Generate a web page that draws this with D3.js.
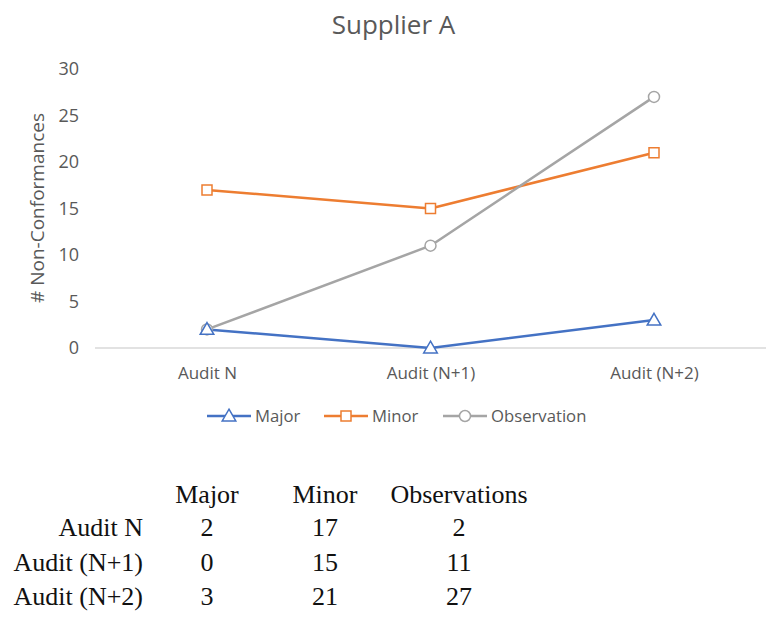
<!DOCTYPE html>
<html><head><meta charset="utf-8">
<script src="https://cdn.jsdelivr.net/npm/d3@7/dist/d3.min.js"></script>
<style>body{margin:0;background:#fff;} svg{display:block;}</style>
</head><body>
<svg id="c" width="767" height="620"></svg>
<script>
const categories = ["Audit N", "Audit (N+1)", "Audit (N+2)"];
const major = [2, 0, 3];
const minor = [17, 15, 21];
const observation = [2, 11, 27];
const yTicks = [0, 5, 10, 15, 20, 25, 30];
const seriesNames = ["Major", "Minor", "Observation"];
const tableHeaders = ["Major", "Minor", "Observations"];
const colors = ["#4472C4", "#ED7D31", "#A5A5A5"];
const shapes = [d3.symbolTriangle, d3.symbolSquare, d3.symbolCircle];

const series = [major, minor, observation];
const svg = d3.select("#c");
const font = "'Open Sans', 'Noto Sans', sans-serif";
const grey = "#595959";

const x = d3.scalePoint().domain(categories).range([207, 654]);
const y = d3.scaleLinear().domain([0, 30]).range([348, 69]);

// title
svg.append("text").attr("x", 393.5).attr("y", 34).attr("text-anchor", "middle")
  .attr("font-family", font).attr("font-size", 26).attr("fill", grey).text("Supplier A");

// y axis labels
const yAxis = d3.axisLeft(y).tickValues(yTicks).tickSize(0).tickPadding(0);
const gy = svg.append("g").attr("transform", "translate(79,0)").call(yAxis);
gy.select(".domain").remove();
gy.selectAll("text").attr("font-family", font).attr("font-size", 18).attr("fill", grey);

// y title
svg.append("text").attr("transform", "translate(44,208) rotate(-90)")
  .attr("text-anchor", "middle").attr("font-family", font).attr("font-size", 19)
  .attr("fill", grey).text("# Non-Conformances");

// x axis
const xb = d3.scaleBand().domain(categories).range([95, 766]);
const xAxis = d3.axisBottom(x).tickSize(0).tickPadding(19);
const gx = svg.append("g").attr("transform", `translate(0,${y(0)})`).call(xAxis);
gx.select(".domain").attr("d", `M${xb.range()[0]},0H${xb.range()[1]}`).attr("stroke", "#D9D9D9").attr("stroke-width", 1.3);
gx.selectAll("text").attr("font-family", font).attr("font-size", 17).attr("fill", grey);

// lines
const line = d3.line().x((d, i) => x(categories[i])).y(d => y(d));
series.forEach((s, k) => {
  svg.append("path").datum(s).attr("d", line).attr("fill", "none")
    .attr("stroke", colors[k]).attr("stroke-width", 2.5).attr("stroke-linejoin", "round");
});
// markers (draw observation first so major is on top)
const symSize = [80, 100, 95];
[2, 1, 0].forEach(k => {
  const sym = d3.symbol().type(shapes[k]).size(symSize[k]);
  svg.append("g").selectAll("path").data(series[k]).join("path")
    .attr("transform", (d, i) => `translate(${x(categories[i])},${y(d) + (k === 0 ? 1 : 0)})`)
    .attr("d", sym).attr("fill", "#fff").attr("stroke", colors[k]).attr("stroke-width", 1.5);
});

// legend
const legX = [207, 324, 443];
seriesNames.forEach((n, k) => {
  const g = svg.append("g").attr("transform", `translate(${legX[k]},416)`);
  g.append("line").attr("x1", 0).attr("x2", 44).attr("stroke", colors[k]).attr("stroke-width", 2.5);
  g.append("path").attr("transform", `translate(22,${k === 0 ? 1 : 0})`)
    .attr("d", d3.symbol().type(shapes[k]).size(symSize[k]))
    .attr("fill", "#fff").attr("stroke", colors[k]).attr("stroke-width", 1.5);
  g.append("text").attr("x", 48).attr("y", 6).attr("font-family", font).attr("font-size", 16.7)
    .attr("fill", grey).text(n);
});

// data table
const serif = "'Liberation Serif', 'Times New Roman', serif";
const colX = [207, 325, 459];
const rowY = [503, 536, 571, 605];
const tbl = svg.append("g");
function ttext(xp, yp, anchor, t) {
  tbl.append("text").attr("x", xp).attr("y", yp)
    .attr("text-anchor", anchor).attr("font-family", serif).attr("font-size", 26)
    .attr("fill", "#111").text(t);
}
tableHeaders.forEach((h, j) => ttext(colX[j], rowY[0], "middle", h));
categories.forEach((c, i) => {
  ttext(143, rowY[i + 1], "end", c);
  series.forEach((s, j) => ttext(colX[j], rowY[i + 1], "middle", s[i]));
});
</script>
</body></html>
